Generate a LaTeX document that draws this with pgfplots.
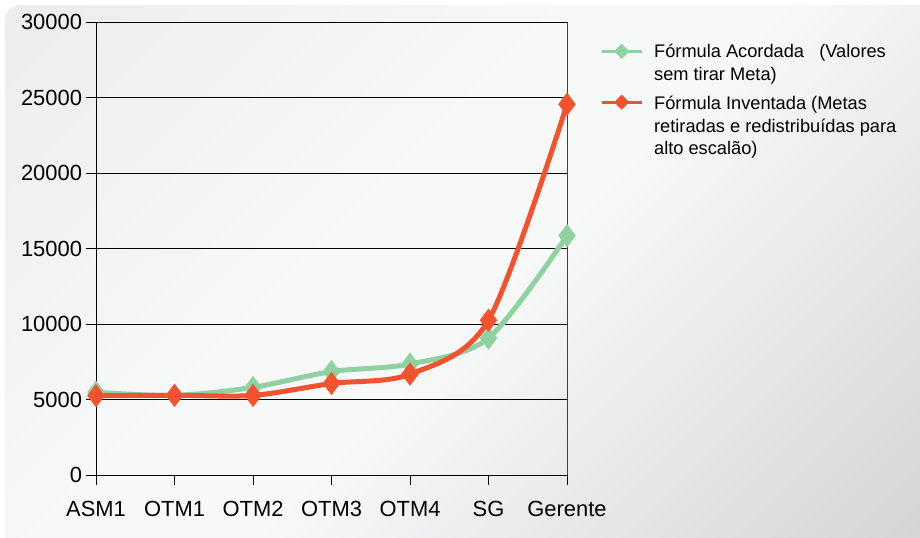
\documentclass[border=0pt]{standalone}
\usepackage{pgfplots}
\pgfplotsset{compat=1.18}
\usepackage{fontspec}
\setmainfont{Liberation Sans}
\definecolor{acord}{RGB}{142,210,162}
\definecolor{invent}{RGB}{242,82,46}
\definecolor{bgA}{RGB}{230,231,233}
\definecolor{bgB}{RGB}{247,248,248}
\definecolor{bgC}{RGB}{194,195,198}
\pgfdeclarehorizontalshading{bgsh}{100bp}{color(0bp)=(bgA); color(42bp)=(bgB); color(52bp)=(bgB); color(100bp)=(bgC)}

\begin{document}
\begin{tikzpicture}[x=1bp,y=1bp]
\useasboundingbox (0,0) rectangle (920,538);
\shade[shading=bgsh, shading angle=-45, rounded corners=15bp]
  (5,-15) rectangle (935,533);
\begin{axis}[
  at={(96bp,63bp)}, anchor=south west,
  scale only axis, width=471bp, height=453bp,
  xmin=0, xmax=6, ymin=0, ymax=30000,
  xtick={0,...,6},
  xticklabels={ASM1,OTM1,OTM2,OTM3,OTM4,SG,Gerente},
  ytick={0,5000,...,30000},
  scaled y ticks=false,
  /pgf/number format/assume math mode=true,
  yticklabel={\pgfmathprintnumber[fixed,1000 sep={}]{\tick}},
  tick align=outside, major tick length=10.5bp,
  tick style={black, line width=0.8bp},
  ymajorgrids, grid style={black, line width=0.8bp},
  axis line style={black, line width=0.9bp},
  axis x line*=bottom, axis y line*=left,
  ticklabel style={font=\fontsize{22}{26}\selectfont},
  xticklabel style={yshift=-12bp},
  clip=false,
  legend style={at={(rel axis cs:1.07,0.955)}, anchor=north west, draw=none, fill=none,
    font=\fontsize{18.3}{22.7}\selectfont, row sep=10bp,
    cells={align=left}, inner sep=0pt},
  legend cell align=left,
]
\draw[black!75, line width=0.8bp] (rel axis cs:1,0) -- (rel axis cs:1,1);
\addplot[acord, line width=5bp, smooth, tension=0.5, mark=diamond*, mark size=7.5bp,
  legend image code/.code={\draw[acord, line width=3bp, yshift=12bp] (0bp,0bp) -- (40bp,0bp);
    \fill[acord, yshift=12bp] (20bp,4bp) -- (24bp,0bp) -- (20bp,-4bp) -- (16bp,0bp) -- cycle;
    \path (48bp,0bp);}]
  coordinates {(0,5480) (1,5270) (2,5800) (3,6850) (4,7350) (5,9070) (6,15850)};
\addplot[invent, line width=5bp, smooth, tension=0.5, mark=diamond*, mark size=7.5bp,
  legend image code/.code={\draw[invent, line width=3bp, yshift=24bp] (0bp,0bp) -- (40bp,0bp);
    \fill[invent, yshift=24bp] (20bp,4bp) -- (24bp,0bp) -- (20bp,-4bp) -- (16bp,0bp) -- cycle;
    \path (48bp,0bp);}]
  coordinates {(0,5250) (1,5280) (2,5270) (3,6060) (4,6680) (5,10250) (6,24550)};
\legend{Fórmula Acordada\ \ \ (Valores\\sem tirar Meta), Fórmula Inventada (Metas\\retiradas e redistribuídas para\\alto escalão)}
\end{axis}
\end{tikzpicture}
\end{document}
